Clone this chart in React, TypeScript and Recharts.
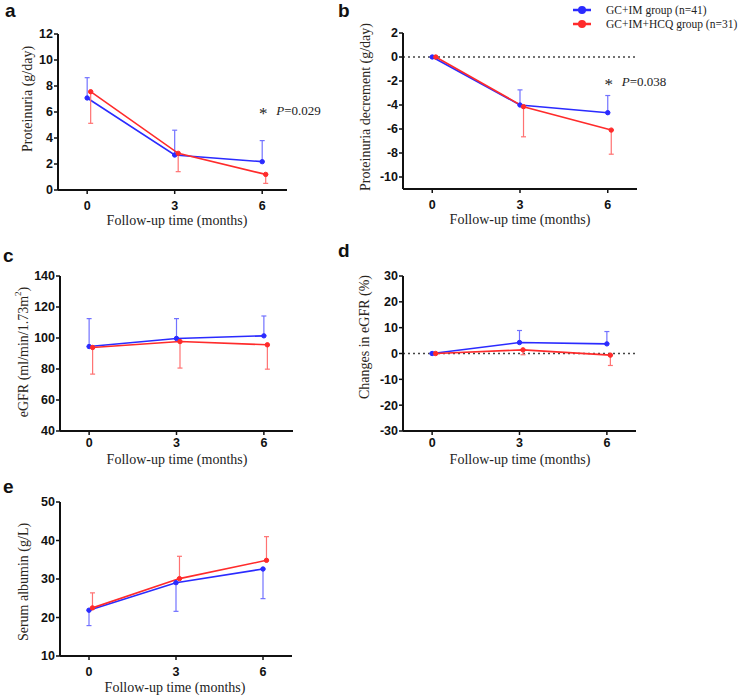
import React from "react";
import { LineChart, Line, XAxis, YAxis, ErrorBar, ReferenceLine, ReferenceDot, Legend, Label } from "recharts";

/* eslint-disable @typescript-eslint/no-explicit-any */

const SERIF = '"Liberation Serif", "Times New Roman", serif';
const SANS = '"Liberation Sans", Arial, sans-serif';
const BLUE = "#2b2bff";
const RED = "#ff2b2b";
const BLUE_ERR = "#7272ff";
const RED_ERR = "#ff7272";

const BLUE_NAME = "GC+IM group (n=41)";
const RED_NAME = "GC+IM+HCQ group (n=31)";

const months = [0, 3, 6];
const DODGE = 0.12; // red group is drawn a little to the right of the blue one

// a. Proteinuria (g/day), blue SD drawn up, red SD drawn down
const protBlue = [7.08, 2.69, 2.18];
const protBlueSd = [1.56, 1.91, 1.62];
const protRed = [7.56, 2.82, 1.2];
const protRedSd = [2.43, 1.41, 0.69];
const protTicks = [0, 2, 4, 6, 8, 10, 12];

// b. Proteinuria decrement (g/day)
const decBlue = [0, -4.0, -4.64];
const decBlueSd = [0, 1.26, 1.43];
const decRed = [0, -4.14, -6.09];
const decRedSd = [0, 2.51, 2.01];
const decTicks = [-10, -8, -6, -4, -2, 0, 2];

// c. eGFR (ml/min/1.73m2)
const egfrBlue = [94.5, 99.7, 101.4];
const egfrBlueSd = [18.0, 12.8, 12.8];
const egfrRed = [93.9, 97.7, 95.6];
const egfrRedSd = [17.2, 17.1, 15.7];
const egfrTicks = [40, 60, 80, 100, 120, 140];

// d. Changes in eGFR (%)
const chgBlue = [0, 4.25, 3.73];
const chgBlueSd = [0, 4.65, 4.77];
const chgRed = [0, 1.42, -0.64];
const chgRedSd = [0, 1.9, 4.0];
const chgTicks = [-30, -20, -10, 0, 10, 20, 30];

// e. Serum albumin (g/L), blue SD drawn down, red SD drawn up
const albBlue = [21.9, 29.05, 32.6];
const albBlueSd = [4.0, 7.45, 7.7];
const albRed = [22.5, 30.1, 34.85];
const albRedSd = [3.9, 5.8, 6.15];
const albTicks = [10, 20, 30, 40, 50];

const toPoints = (vals: number[], sd: number[], dir: "up" | "down", shift = 0) =>
  months.map((m, i) => ({ x: m + shift, y: vals[i], err: dir === "up" ? [0, sd[i]] : [sd[i], 0] }));

type Box = { left: number; top: number; w: number; h: number };
type Plot = { l: number; t: number; r: number; b: number };

interface PanelProps {
  box: Box;
  plot: Plot;
  xMax: number;
  yDomain: [number, number];
  yTicks: number[];
  yTitle: React.ReactNode;
  yTitlePos: { x: number; y: number };
  xTitleX: number;
  xTitleGap?: number;
  xTickGap?: number;
  blue: any[];
  red: any[];
  zeroLine?: boolean;
  note?: { x: number; y: number; text: string };
  legend?: boolean;
}

const renderLegend = (props: any) => {
  const payload = props.payload ?? [];
  return (
    <div style={{ fontFamily: SERIF, fontSize: 11.5, color: "#222" }}>
      {payload.map((e: any) => (
        <div key={e.value} style={{ display: "flex", alignItems: "center", height: 14 }}>
          <svg width={18} height={10}>
            <line x1={0} y1={5} x2={18} y2={5} stroke={e.color} strokeWidth={2.5} />
            <circle cx={9} cy={5} r={4} fill={e.color} />
          </svg>
          <span style={{ marginLeft: 15, whiteSpace: "nowrap" }}>{e.value}</span>
        </div>
      ))}
    </div>
  );
};

const Panel: React.FC<PanelProps> = (p) => {
  const { box, plot } = p;
  const margin = { top: plot.t - box.top, right: box.left + box.w - plot.r, bottom: 0, left: 0 };
  const xTitle = () => (
    <text
      x={p.xTitleX - box.left}
      y={plot.b - box.top + (p.xTitleGap ?? 35)}
      textAnchor="middle"
      fontFamily={SERIF}
      fontSize={14}
      fill="#222"
    >
      Follow-up time (months)
    </text>
  );
  const tx = p.yTitlePos.x - box.left;
  const ty = p.yTitlePos.y - box.top;
  const yTitle = () => (
    <text
      x={tx}
      y={ty}
      transform={`rotate(-90 ${tx} ${ty})`}
      textAnchor="middle"
      dominantBaseline="central"
      fontFamily={SERIF}
      fontSize={14}
      fill="#2a2620"
    >
      {p.yTitle}
    </text>
  );
  const noteLabel = (props: any) => {
    const vb = props.viewBox ?? { x: 0, y: 0 };
    const cx = vb.x + (vb.width ?? 0) / 2;
    const cy = vb.y + (vb.height ?? 0) / 2;
    return (
      <g fontFamily={SERIF} fill="#222">
        <text x={cx + 1} y={cy + 9} textAnchor="middle" fontSize={17}>
          *
        </text>
        <text x={cx + 14} y={cy + 4.5} fontSize={13}>
          <tspan fontStyle="italic">P</tspan>
          {p.note?.text}
        </text>
      </g>
    );
  };
  const tickStyle = { fill: "#111", fontSize: 12.5, fontWeight: 700, fontFamily: SANS };
  return (
    <div style={{ position: "absolute", left: box.left, top: box.top }}>
      <LineChart width={box.w} height={box.h} margin={margin}>
        <XAxis
          type="number"
          dataKey="x"
          domain={[-1, p.xMax]}
          ticks={months}
          interval={0}
          height={box.top + box.h - plot.b}
          tick={tickStyle}
          tickSize={4}
          tickMargin={p.xTickGap ?? 7}
          axisLine={{ stroke: "#111", strokeWidth: 2 }}
          tickLine={{ stroke: "#111", strokeWidth: 1.5 }}
        >
          <Label content={xTitle} />
        </XAxis>
        <YAxis
          type="number"
          dataKey="y"
          domain={p.yDomain}
          ticks={p.yTicks}
          interval={0}
          width={plot.l - box.left}
          tick={tickStyle}
          tickSize={4}
          tickMargin={1}
          axisLine={{ stroke: "#111", strokeWidth: 2 }}
          tickLine={{ stroke: "#111", strokeWidth: 1.5 }}
        >
          <Label content={yTitle} />
        </YAxis>
        {p.zeroLine && <ReferenceLine y={0} stroke="#444" strokeWidth={1.5} strokeDasharray="2 3" />}
        <Line
          data={p.blue}
          dataKey="y"
          name={BLUE_NAME}
          type="linear"
          stroke={BLUE}
          strokeWidth={1.6}
          dot={{ r: 2.2, fill: BLUE, stroke: BLUE, strokeWidth: 1 }}
          activeDot={false}
          isAnimationActive={false}
        >
          <ErrorBar dataKey="err" direction="y" width={2.5} stroke={BLUE_ERR} strokeWidth={1.2} isAnimationActive={false} />
        </Line>
        <Line
          data={p.red}
          dataKey="y"
          name={RED_NAME}
          type="linear"
          stroke={RED}
          strokeWidth={1.6}
          dot={{ r: 2.2, fill: RED, stroke: RED, strokeWidth: 1 }}
          activeDot={false}
          isAnimationActive={false}
        >
          <ErrorBar dataKey="err" direction="y" width={2.5} stroke={RED_ERR} strokeWidth={1.2} isAnimationActive={false} />
        </Line>
        {p.note && (
          <ReferenceDot x={p.note.x} y={p.note.y} r={0} fill="none" stroke="none">
            <Label content={noteLabel} />
          </ReferenceDot>
        )}
        {p.legend && (
          <Legend
            layout="vertical"
            align="center"
            verticalAlign="middle"
            content={renderLegend}
            wrapperStyle={{ left: 233, top: 3, width: 170 }}
          />
        )}
      </LineChart>
    </div>
  );
};

const letterStyle = (left: number, top: number): React.CSSProperties => ({
  position: "absolute",
  left,
  top,
  fontFamily: SANS,
  fontWeight: 700,
  fontSize: 19,
  lineHeight: "19px",
  color: "#111",
});

export default function App() {
  return (
    <div style={{ position: "absolute", left: 0, top: 0, width: 740, height: 698, background: "#fff" }}>
      <div style={letterStyle(5, 1)}>a</div>
      <div style={letterStyle(338, 1)}>b</div>
      <div style={letterStyle(3, 246)}>c</div>
      <div style={letterStyle(338, 241)}>d</div>
      <div style={letterStyle(3, 477)}>e</div>

      <Panel
        box={{ left: 0, top: 0, w: 335, h: 232 }}
        plot={{ l: 58, t: 34, r: 287, b: 190 }}
        xMax={6.85}
        yDomain={[0, 12]}
        yTicks={protTicks}
        yTitle="Proteinuria (g/day)"
        yTitlePos={{ x: 27, y: 99 }}
        xTitleX={177}
        blue={toPoints(protBlue, protBlueSd, "up")}
        red={toPoints(protRed, protRedSd, "down", DODGE)}
        note={{ x: 6, y: 6.15, text: "=0.029" }}
      />
      <Panel
        box={{ left: 340, top: 0, w: 400, h: 232 }}
        plot={{ l: 403, t: 33, r: 637, b: 189 }}
        xMax={7}
        yDomain={[-11, 2]}
        yTicks={decTicks}
        yTitle="Proteinuria decrement (g/day)"
        yTitlePos={{ x: 365, y: 107 }}
        xTitleX={520}
        zeroLine
        blue={toPoints(decBlue, decBlueSd, "up")}
        red={toPoints(decRed, decRedSd, "down", DODGE)}
        note={{ x: 6, y: -2.0, text: "=0.038" }}
        legend
      />
      <Panel
        box={{ left: 0, top: 232, w: 300, h: 242 }}
        plot={{ l: 60, t: 276, r: 293, b: 431 }}
        xMax={7}
        yDomain={[40, 140]}
        yTicks={egfrTicks}
        yTitle={
          <>
            eGFR (ml/min/1.73m<tspan dy={-5} fontSize={9}>2</tspan>
            <tspan dy={5}>)</tspan>
          </>
        }
        yTitlePos={{ x: 23, y: 352 }}
        xTitleX={177}
        xTitleGap={33}
        xTickGap={3}
        blue={toPoints(egfrBlue, egfrBlueSd, "up")}
        red={toPoints(egfrRed, egfrRedSd, "down", DODGE)}
      />
      <Panel
        box={{ left: 340, top: 232, w: 300, h: 242 }}
        plot={{ l: 403, t: 276, r: 636, b: 431 }}
        xMax={7}
        yDomain={[-30, 30]}
        yTicks={chgTicks}
        yTitle="Changes in eGFR (%)"
        yTitlePos={{ x: 364, y: 337 }}
        xTitleX={520}
        xTitleGap={33}
        xTickGap={3}
        zeroLine
        blue={toPoints(chgBlue, chgBlueSd, "up")}
        red={toPoints(chgRed, chgRedSd, "down", DODGE)}
      />
      <Panel
        box={{ left: 0, top: 474, w: 300, h: 224 }}
        plot={{ l: 60, t: 502, r: 292, b: 656 }}
        xMax={7}
        yDomain={[10, 50]}
        yTicks={albTicks}
        yTitle="Serum albumin (g/L)"
        yTitlePos={{ x: 23, y: 582 }}
        xTitleX={175}
        xTitleGap={36}
        blue={toPoints(albBlue, albBlueSd, "down")}
        red={toPoints(albRed, albRedSd, "up", DODGE)}
      />
    </div>
  );
}
